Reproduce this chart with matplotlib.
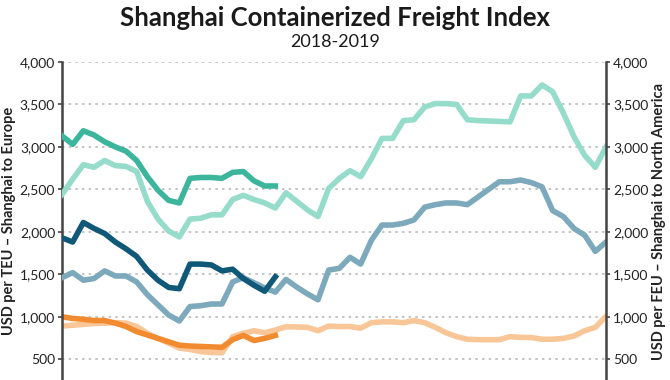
import matplotlib.pyplot as plt
import numpy as np

# weekly index, 2018 = full year, 2019 = first 21 weeks
weeks_2018 = np.arange(52)
weeks_2019 = np.arange(21)

# Shanghai -> Europe (USD per TEU)
europe_2018 = [890, 900, 910, 920, 925, 930, 925, 885, 805, 745, 690, 630, 615, 590,
               578, 575, 765, 805, 835, 812, 843, 882, 880, 875, 835, 890, 885, 885,
               865, 930, 940, 940, 930, 955, 930, 875, 812, 765, 735, 730, 730, 730,
               765, 757, 755, 735, 735, 745, 773, 835, 875, 1005]
europe_2019 = [1000, 980, 970, 955, 955, 925, 885, 825, 785, 745, 705, 665, 655, 650,
               645, 640, 730, 780, 720, 745, 780]

# Shanghai -> North America (USD per FEU)
na_east_2018 = [2440, 2620, 2790, 2760, 2840, 2780, 2770, 2710, 2360, 2150, 2010, 1940,
                2150, 2160, 2200, 2200, 2380, 2430, 2380, 2340, 2280, 2460, 2360, 2260,
                2180, 2510, 2630, 2720, 2650, 2860, 3100, 3100, 3310, 3320, 3470, 3510,
                3510, 3500, 3320, 3310, 3305, 3300, 3295, 3600, 3600, 3730, 3650, 3400,
                3120, 2900, 2760, 3000]
na_east_2019 = [3130, 3030, 3190, 3140, 3060, 3000, 2950, 2840, 2650, 2490, 2370, 2340,
                2630, 2640, 2640, 2630, 2700, 2710, 2600, 2540, 2540]
na_west_2018 = [1460, 1520, 1430, 1450, 1540, 1480, 1480, 1410, 1260, 1140, 1020, 950,
                1120, 1130, 1150, 1150, 1410, 1460, 1400, 1340, 1290, 1440, 1350, 1270,
                1200, 1550, 1570, 1700, 1620, 1900, 2080, 2080, 2100, 2140, 2290, 2320,
                2340, 2340, 2320, 2410, 2500, 2590, 2590, 2610, 2580, 2530, 2250, 2180,
                2040, 1960, 1770, 1880]
na_west_2019 = [1930, 1880, 2110, 2040, 1980, 1880, 1800, 1710, 1550, 1430, 1345, 1330,
                1620, 1620, 1610, 1540, 1560, 1450, 1370, 1300, 1470]

yticks = [500, 1000, 1500, 2000, 2500, 3000, 3500, 4000]

plt.rcParams['font.family'] = ['Lato', 'DejaVu Sans']

fig = plt.figure(figsize=(6.7, 3.8), dpi=100)
ax = fig.add_axes([62 / 670, 0, 544 / 670, 318 / 380])
ax2 = ax.twinx()

lw = 4
# Europe on left axis
ax.plot(weeks_2018, europe_2018, color='#f8c697', lw=lw, solid_joinstyle='round')
ax.plot(weeks_2019, europe_2019, color='#f28b30', lw=lw, solid_joinstyle='round')
# North America on right axis
ax2.plot(weeks_2018, na_east_2018, color='#96dccb', lw=lw, solid_joinstyle='round')
ax2.plot(weeks_2018, na_west_2018, color='#7ca9bb', lw=lw, solid_joinstyle='round')
ax2.plot(weeks_2019, na_east_2019, color='#3bb59c', lw=lw, solid_joinstyle='round')
ax2.plot(weeks_2019, na_west_2019, color='#0f5878', lw=lw, solid_joinstyle='round')

for a in (ax, ax2):
    a.set_xlim(0, 51)
    a.set_ylim(255, 4000)
    a.set_yticks(yticks)
    a.set_yticklabels([f'{v:,}' for v in yticks])
    a.set_xticks([])
    a.spines['top'].set_visible(False)
    a.spines['bottom'].set_visible(False)
    a.tick_params(axis='y', length=3, width=1.2, color='#444444',
                  labelsize=10, labelcolor='#222222', pad=2)

ax.spines['right'].set_visible(False)
ax.spines['left'].set_color('#444444')
ax.spines['left'].set_linewidth(1.8)
ax2.spines['left'].set_visible(False)
ax2.spines['right'].set_color('#444444')
ax2.spines['right'].set_linewidth(1.8)

ax.grid(axis='y', color='#bbbbbb', lw=1.2, linestyle=(0, (1.5, 2.5)))
ax.set_axisbelow(True)

ax.set_ylabel('USD per TEU – Shanghai to Europe', fontsize=10.5, fontweight='bold',
              color='#222222', labelpad=3)
ax2.set_ylabel('USD per FEU – Shanghai to North America', fontsize=10.5,
               fontweight='bold', color='#222222', labelpad=3)

fig.text(0.5, 1 - 18 / 380, 'Shanghai Containerized Freight Index', ha='center',
         va='center', fontsize=18.5, fontweight='bold', color='#1a1a1a')
fig.text(0.5, 1 - 42 / 380, '2018-2019', ha='center', va='center', fontsize=13,
         color='#1a1a1a')

fig.savefig('out.png', dpi=100)
